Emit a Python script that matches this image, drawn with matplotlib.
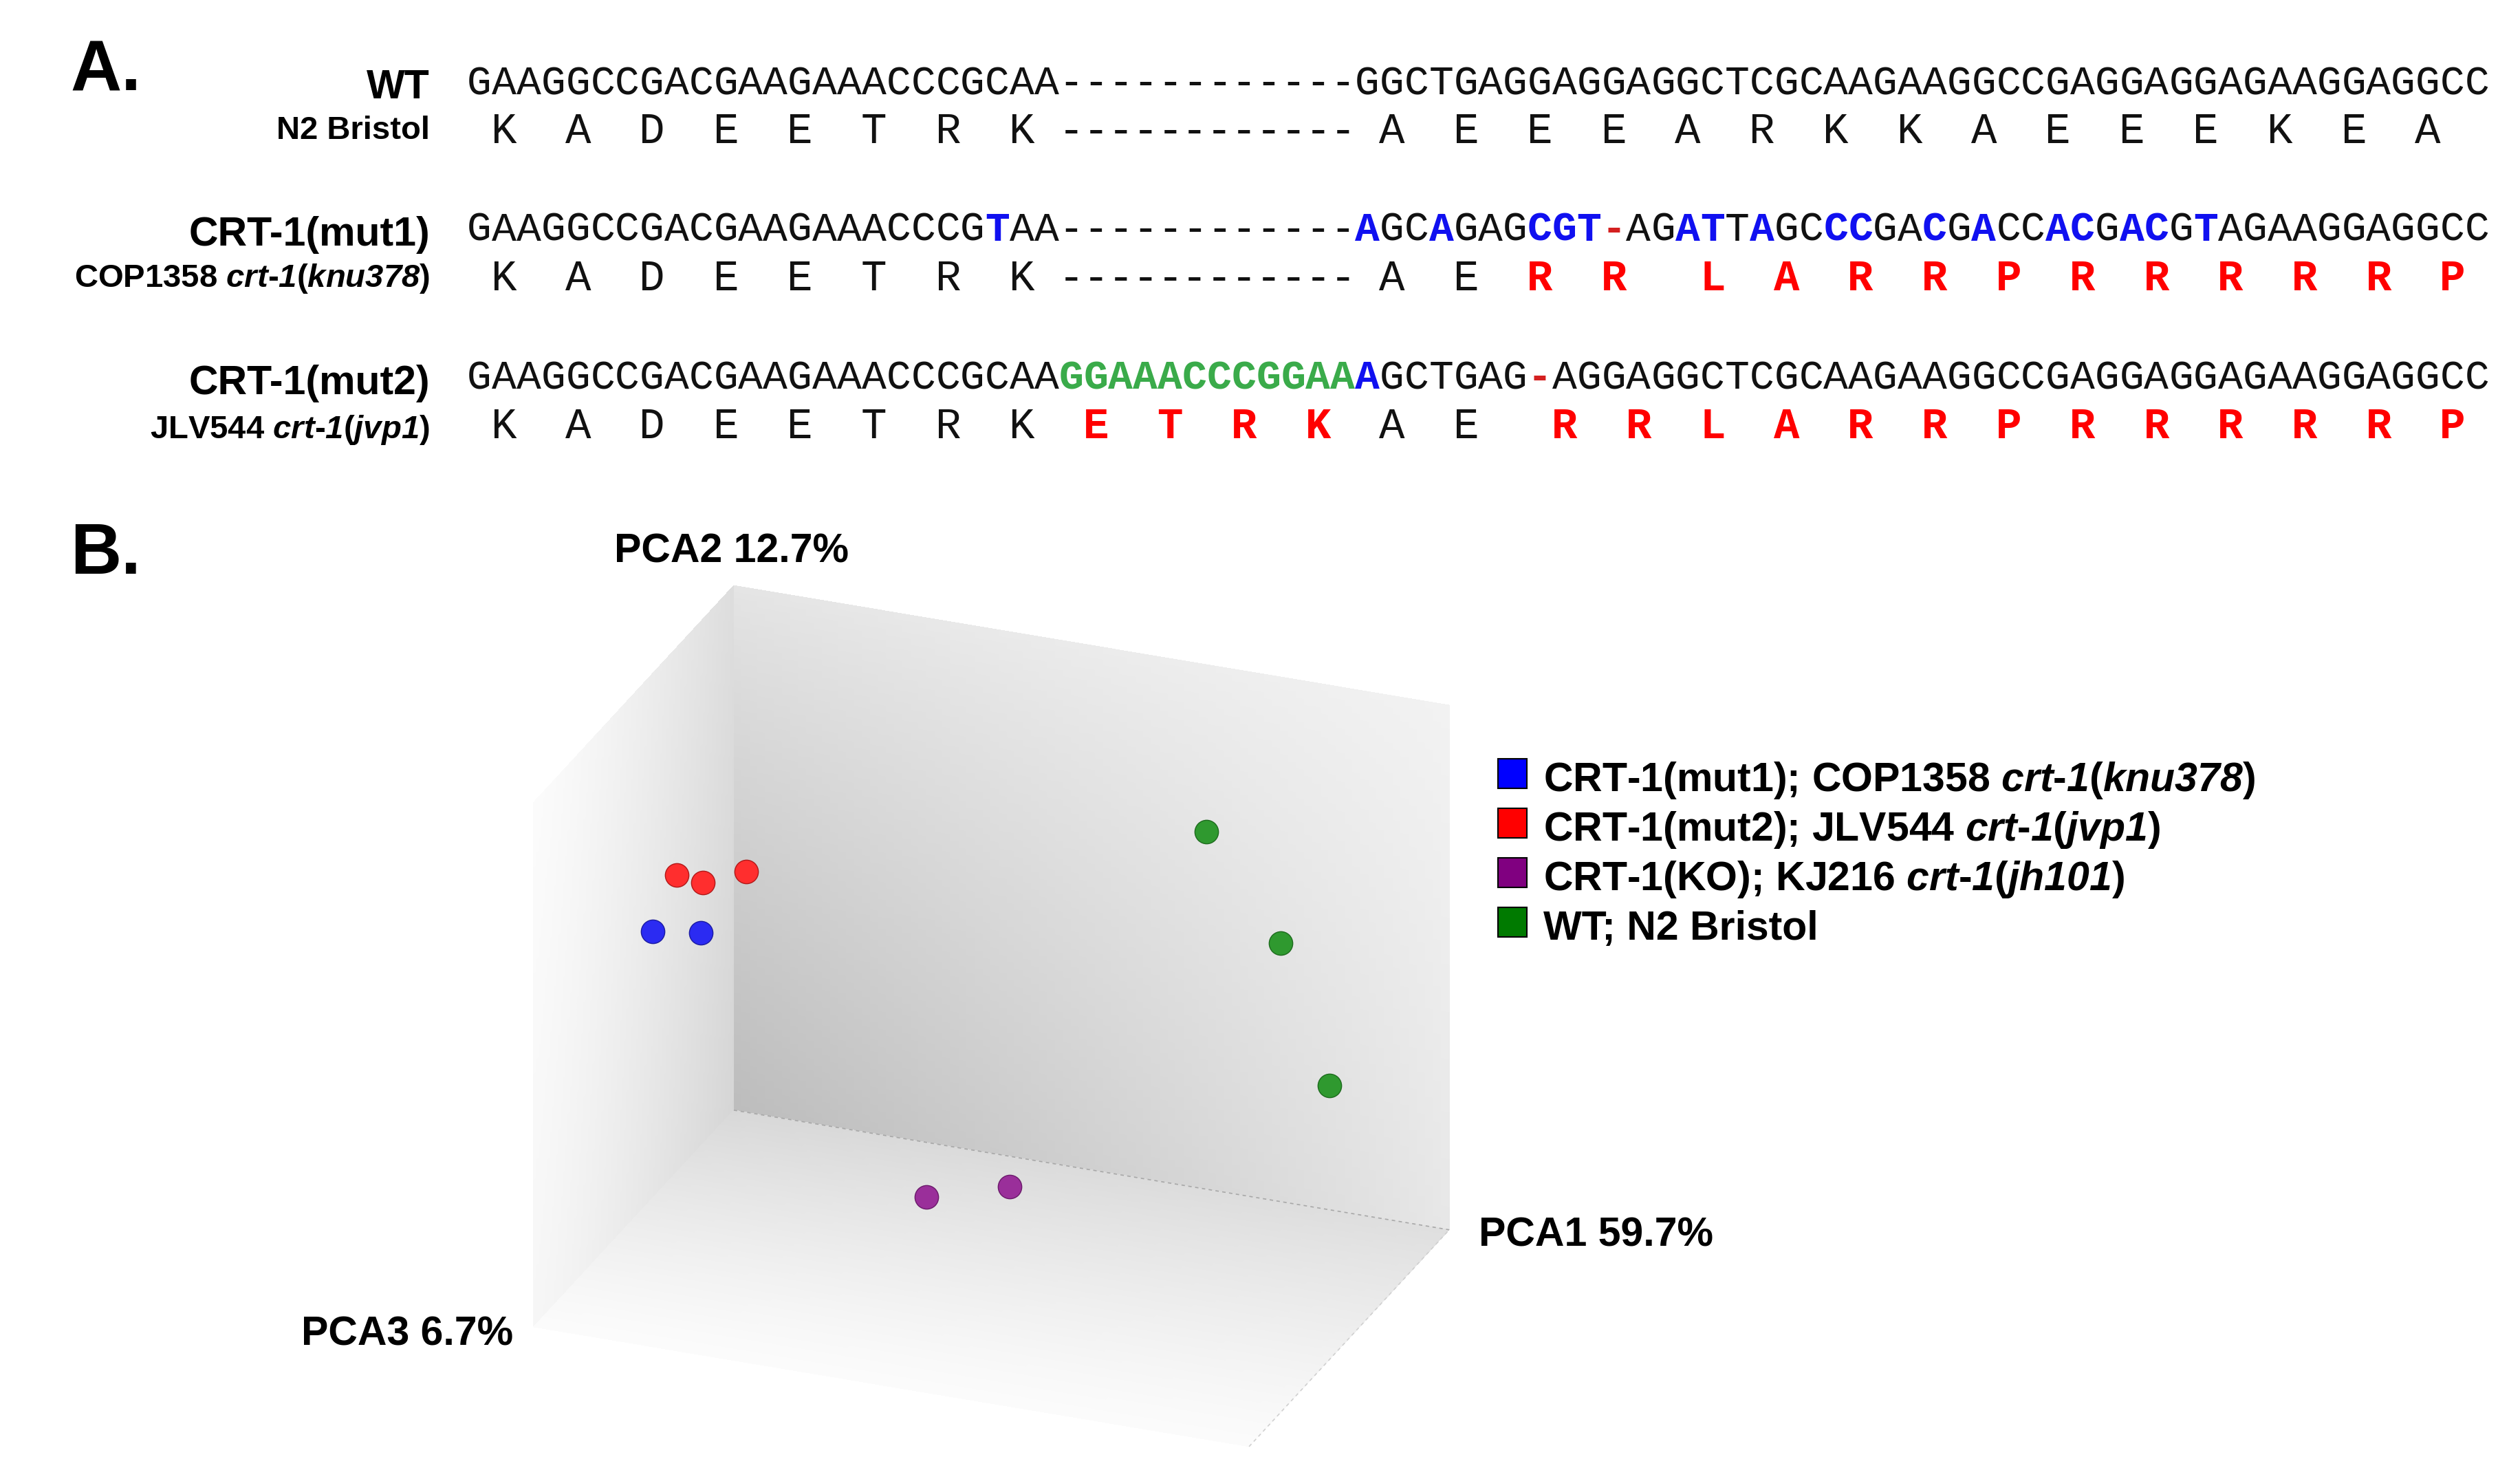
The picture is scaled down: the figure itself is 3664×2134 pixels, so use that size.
import numpy as np
import matplotlib
matplotlib.use("Agg")
import matplotlib.pyplot as plt
from matplotlib.patches import Rectangle

plt.rcParams['font.family'] = ['Liberation Sans', 'DejaVu Sans']
plt.rcParams['mathtext.fontset'] = 'custom'
plt.rcParams['mathtext.rm'] = 'Liberation Sans:italic:bold'
plt.rcParams['mathtext.it'] = 'Liberation Sans:italic:bold'
plt.rcParams['mathtext.bf'] = 'Liberation Sans:italic:bold'

# ---------------- Panel A data ----------------
row_labels = ["WT", "CRT-1(mut1)", "CRT-1(mut2)"]
strain_labels = ["N2 Bristol",
                 r"COP1358 $\mathit{crt}$-$\mathit{1}$($\mathit{knu378}$)",
                 r"JLV544 $\mathit{crt}$-$\mathit{1}$($\mathit{jvp1}$)"]
nt_wt   = "GAAGGCCGACGAAGAAACCCGCAA------------GGCTGAGGAGGAGGCTCGCAAGAAGGCCGAGGAGGAGAAGGAGGCC"
nt_mut1 = "GAAGGCCGACGAAGAAACCCGTAA------------AGCAGAGCGT-AGATTAGCCCGACGACCACGACGTAGAAGGAGGCC"
nt_mut2 = "GAAGGCCGACGAAGAAACCCGCAAGGAAACCCGGAAAGCTGAG-AGGAGGCTCGCAAGAAGGCCGAGGAGGAGAAGGAGGCC"
aa_wt   = " K  A  D  E  E  T  R  K ------------ A  E  E  E  A  R  K  K  A  E  E  E  K  E  A  "
aa_mut1 = " K  A  D  E  E  T  R  K ------------ A  E  R  R   L  A  R  R  P  R  R  R  R  R  P "
aa_mut2 = " K  A  D  E  E  T  R  K  E  T  R  K  A  E   R  R  L  A  R  R  P  R  R  R  R  R  P "
nt_rows = [nt_wt, nt_mut1, nt_mut2]
aa_rows = [aa_wt, aa_mut1, aa_mut2]

# ---------------- Panel B data ----------------
axis_titles = ["PCA1 59.7%", "PCA2 12.7%", "PCA3 6.7%"]
group_labels = [r"CRT-1(mut1); COP1358 $\mathit{crt}$-$\mathit{1}$($\mathit{knu378}$)",
                r"CRT-1(mut2); JLV544 $\mathit{crt}$-$\mathit{1}$($\mathit{jvp1}$)",
                r"CRT-1(KO); KJ216 $\mathit{crt}$-$\mathit{1}$($\mathit{jh101}$)",
                "WT; N2 Bristol"]
pc1_mut1 = [-35.6, -31.4]
pc2_mut1 = [6.1, 5.4]
pc3_mut1 = [-5.0, -2.5]
pc1_mut2 = [-34.1, -30.0, -27.4]
pc2_mut2 = [11.5, 12.6, 11.8]
pc3_mut2 = [-2.5, -5.0, 0.0]
pc1_ko = [-9.5, -0.2]
pc2_ko = [-24.8, -22.0]
pc3_ko = [5.0, 5.0]
pc1_wt = [20.7, 31.2, 37.8]
pc2_wt = [20.9, 12.4, -1.5]
pc3_wt = [7.5, 2.5, 0.0]
PC1_LIM = (-40, 40)
PC2_LIM = (-30, 30)
PC3_LIM = (-25, 25)

point_colors = ['#2b2bf2', '#ff2e2e', '#9a2f9a', '#2f992f']
point_edges = ['#1a1aa0', '#b01818', '#6a1a6a', '#1d6a1d']
legend_colors = ['#0000ff', '#ff0000', '#800080', '#007a00']

# ---------------- figure ----------------
W, H, DPI = 3664, 2134, 100
fig = plt.figure(figsize=(W / DPI, H / DPI), dpi=DPI, facecolor='white')
axo = fig.add_axes([0, 0, 1, 1])
axo.set_xlim(0, W)
axo.set_ylim(H, 0)
axo.axis('off')

BIG, SMALL, LETTER = 42.5, 34, 74
MONO = ['Liberation Mono', 'DejaVu Sans Mono']

# panel letters
axo.text(102, 132, "A.", fontsize=LETTER, fontweight='bold', va='baseline', ha='left')
axo.text(102, 834, "B.", fontsize=LETTER, fontweight='bold', va='baseline', ha='left')

# panel A layout
NT_X0, NT_CW = 679.0, 35.86
nt_base = [137, 350, 565]
aa_base = [208, 422, 637]
lab_base = [143, 357, 573]
sub_base = [202, 417, 637]
LAB_RIGHT = 625

for r in range(3):
    axo.text(LAB_RIGHT, lab_base[r], row_labels[r], fontsize=BIG, fontweight='bold',
             ha='right', va='baseline')
    axo.text(LAB_RIGHT, sub_base[r], strain_labels[r], fontsize=SMALL, fontweight='bold',
             ha='right', va='baseline')
    seq = nt_rows[r].ljust(82)[:82]
    ref = nt_wt.ljust(82)[:82]
    for i, (ch, rc) in enumerate(zip(seq, ref)):
        if ch == ' ':
            continue
        if r == 0 or ch == rc:
            col, wt = '#111111', 'normal'
        elif rc == '-':
            col, wt = '#3aab4a', 'bold'
        elif ch == '-':
            col, wt = '#d42020', 'bold'
        else:
            col, wt = '#1010f0', 'bold'
        axo.text(NT_X0 + (i + 0.5) * NT_CW, nt_base[r], ch, family=MONO, fontsize=43,
                 color=col, fontweight=wt, ha='center', va='baseline')
    aas = aa_rows[r].ljust(82)[:82]
    aref = aa_wt.ljust(82)[:82]
    for i, (ch, rc) in enumerate(zip(aas, aref)):
        if ch == ' ':
            continue
        if r == 0 or ch == rc:
            col, wt = '#111111', 'normal'
        else:
            col, wt = '#ff0000', 'bold'
        axo.text(NT_X0 + (i + 0.5) * NT_CW, aa_base[r], ch, family=MONO, fontsize=45,
                 color=col, fontweight=wt, ha='center', va='baseline')

# ---------------- Panel B: 3D PCA ----------------
ax3 = fig.add_axes([(1445 - 850) / W, (H - 1477 - 850) / H, 1700 / W, 1700 / H],
                   projection='3d', computed_zorder=False)
ax3.set_proj_type('ortho')
ax3.view_init(elev=25.18, azim=-68.55, roll=0)
ax3.set_xlim(*PC1_LIM)
ax3.set_ylim(*PC3_LIM)
ax3.set_zlim(*PC2_LIM)
ax3.set_box_aspect((1118, 796, 843))
ax3.set_axis_off()
ax3.patch.set_facecolor('none')

x0, x1 = PC1_LIM
y0, y1 = PC3_LIM
z0, z1 = PC2_LIM
n = 90
s = np.linspace(0, 1, n)
S, T = np.meshgrid(s, s)


def gray(g):
    g = np.clip(g, 0, 1)
    return np.dstack([g, g, g, np.ones_like(g)])


surf_kw = dict(rstride=1, cstride=1, shade=False, linewidth=0, antialiased=False, zorder=1)
# back wall (PC3 = max)
g_back = 0.95 - 0.04 * (1 - T) - 0.05 * (1 - S) - 0.12 * ((1 - S) * (1 - T)) ** 0.8
ax3.plot_surface(x0 + S * (x1 - x0), np.full_like(S, y1), z0 + T * (z1 - z0),
                 facecolors=gray(g_back), **surf_kw)
# left wall (PC1 = min)
g_left = 0.965 - 0.10 * S ** 1.4 - 0.03 * S * (1 - T) + 0.02 * T * (1 - S)
ax3.plot_surface(np.full_like(S, x0), y0 + S * (y1 - y0), z0 + T * (z1 - z0),
                 facecolors=gray(g_left), **surf_kw)
# floor (PC2 = min)
g_floor = 0.985 - 0.14 * T ** 1.2 * (1 - 0.2 * S)
ax3.plot_surface(x0 + S * (x1 - x0), y0 + T * (y1 - y0), np.full_like(S, z0),
                 facecolors=gray(g_floor), **surf_kw)

ax3.plot([x0, x1], [y1, y1], [z0, z0], color='#a8a8a8', lw=1.2, ls=(0, (3, 3)), zorder=2)
ax3.plot([x1, x1], [y0, y1], [z0, z0], color='#d0d0d0', lw=1.2, ls=(0, (3, 3)), zorder=2)

groups = [(pc1_mut1, pc2_mut1, pc3_mut1), (pc1_mut2, pc2_mut2, pc3_mut2),
          (pc1_ko, pc2_ko, pc3_ko), (pc1_wt, pc2_wt, pc3_wt)]
for (p1, p2, p3), fc, ec in zip(groups, point_colors, point_edges):
    ax3.scatter(p1, p3, p2, s=610, c=fc, edgecolors=ec, linewidths=1.0,
                depthshade=False, zorder=5)

# calibrate position of 3D box to target pixel corners
O = np.array([1067.0, 1614.0])
VX = np.array([1040.0, 174.0])
VF = np.array([-291.0, 315.0])
VZ = np.array([0.0, -763.0])
corners, targets = [], []
for i, xv in enumerate((x0, x1)):
    for j, yv in enumerate((y0, y1)):
        for k, zv in enumerate((z0, z1)):
            corners.append((xv, yv, zv))
            t = O + i * VX + (1 - j) * VF + k * VZ
            targets.append((t[0], H - t[1]))
corners = np.array(corners, float)
targets = np.array(targets, float)


def calibrate():
    fig.canvas.draw()
    M = ax3.get_proj()
    P = np.vstack([corners.T, np.ones(len(corners))])
    R = M @ P
    xs, ys = R[0] / R[3], R[1] / R[3]
    disp = ax3.transData.transform(np.column_stack([xs, ys]))
    bb = ax3.get_position()
    l, b, w = bb.x0 * W, bb.y0 * H, bb.width * W
    q = (disp - np.array([l, b])) / w
    qm, tm = q.mean(0), targets.mean(0)
    wn = ((q - qm) * (targets - tm)).sum() / ((q - qm) ** 2).sum()
    ln, bn = tm - wn * qm
    ax3.set_position([ln / W, bn / H, wn / W, wn / H])


calibrate()
calibrate()

# axis titles
axo.text(2150, 1811, axis_titles[0], fontsize=BIG, fontweight='bold', ha='left', va='baseline')
axo.text(893, 818, axis_titles[1], fontsize=BIG, fontweight='bold', ha='left', va='baseline')
axo.text(438, 1956, axis_titles[2], fontsize=BIG, fontweight='bold', ha='left', va='baseline')

# legend
for i, (lab, col) in enumerate(zip(group_labels, legend_colors)):
    yb = 1150 + i * 72
    axo.add_patch(Rectangle((2178, yb - 47), 42, 43, facecolor=col, edgecolor='black', lw=1.5))
    axo.text(2244, yb, lab, fontsize=BIG, fontweight='bold', ha='left', va='baseline')

fig.savefig('out.png', dpi=DPI, facecolor='white')
